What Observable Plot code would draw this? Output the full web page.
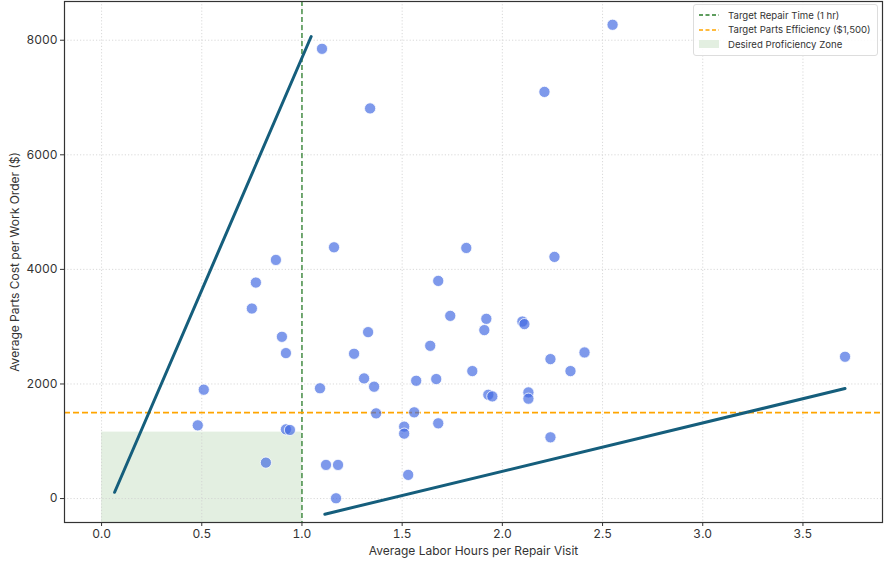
<!DOCTYPE html>
<html>
<head>
<meta charset="utf-8">
<script src="https://cdn.jsdelivr.net/npm/d3@7"></script>
<script src="https://cdn.jsdelivr.net/npm/@observablehq/plot@0.6"></script>
<style>
  html, body { margin: 0; padding: 0; background: #fff; }
  #wrap { position: relative; width: 892px; height: 568px; font-family: Inter, "Open Sans", sans-serif; }
  #legend { position: absolute; left: 693px; top: 4px; width: 183px; border: 1px solid #ddd; border-radius: 3px; background: rgba(255,255,255,0.85); font-size: 9.6px; color: #333; padding: 3px 0 3px 0; }
  .row { display: flex; align-items: center; height: 14.5px; padding-left: 5px; }
  .sw { width: 20px; margin-right: 9px; flex: none; }
</style>
</head>
<body>
<div id="wrap"></div>
<script>
// ---- data ----
const laborHours = [0.87,0.77,0.75,0.90,0.92,0.51,0.48,0.92,0.94,0.82,1.09,1.10,1.34,2.21,2.55,3.71,1.16,1.82,2.26,1.68,1.74,1.92,1.91,2.10,2.11,1.33,1.64,1.26,2.41,2.24,2.34,1.85,1.31,1.67,1.57,1.36,1.93,1.95,2.13,2.13,1.37,1.56,1.51,1.51,1.68,2.24,1.12,1.18,1.53,1.17];
const partsCost = [4165,3770,3317,2823,2539,1900,1278,1208,1197,627,1925,7850,6810,7098,8270,2475,4386,4374,4218,3799,3189,3137,2940,3090,3045,2905,2666,2527,2550,2434,2225,2225,2097,2086,2056,1952,1812,1783,1853,1743,1487,1505,1255,1133,1313,1069,587,587,413,5];
const lineAX = [0.065, 1.046];
const lineAY = [110, 8065];
const lineBX = [1.114, 3.71];
const lineBY = [-273, 1920];
const targetHours = 1.0;
const targetParts = 1500;
const zoneX = [0, 1.0];
const zoneTop = 1160;
const xTicks = [0, 0.5, 1.0, 1.5, 2.0, 2.5, 3.0, 3.5];
const yTicks = [0, 2000, 4000, 6000, 8000];
const xDomain = [-0.185, 3.897];
const yDomain = [-418, 8676];

const points = laborHours.map((h, i) => ({h, c: partsCost[i]}));
const lineA = lineAX.map((x, i) => ({x, y: lineAY[i]}));
const lineB = lineBX.map((x, i) => ({x, y: lineBY[i]}));

const chart = Plot.plot({
  width: 892,
  height: 568,
  marginLeft: 64,
  marginRight: 10,
  marginTop: 1,
  marginBottom: 46,
  style: {fontFamily: "Inter, 'Open Sans', sans-serif", fontSize: "12px", color: "#333", background: "#fff"},
  x: {domain: xDomain},
  y: {domain: yDomain},
  marks: [
    Plot.rect([{x1: zoneX[0], x2: zoneX[1], y1: yDomain[0], y2: zoneTop}], {x1: "x1", x2: "x2", y1: "y1", y2: "y2", fill: "#e3efe1"}),
    Plot.gridX(xTicks, {stroke: "#cfcfcf", strokeOpacity: 1, strokeDasharray: "1.2,2", strokeWidth: 0.8}),
    Plot.gridY(yTicks, {stroke: "#cfcfcf", strokeOpacity: 1, strokeDasharray: "1.2,2", strokeWidth: 0.8}),
    Plot.ruleX([targetHours], {stroke: "#2a7d2a", strokeWidth: 1.3, strokeDasharray: "5,3"}),
    Plot.ruleY([targetParts], {stroke: "#FFA500", strokeWidth: 1.6, strokeDasharray: "6,3"}),
    Plot.dot(points, {x: "h", y: "c", r: 5.6, fill: "#4169E1", fillOpacity: 0.68, stroke: "#fff", strokeWidth: 0.8}),
    Plot.line(lineA, {x: "x", y: "y", stroke: "#155e7c", strokeWidth: 3}),
    Plot.line(lineB, {x: "x", y: "y", stroke: "#155e7c", strokeWidth: 3}),
    Plot.axisX(xTicks, {tickFormat: d3.format(".1f"), tickSize: 4, tickPadding: 3, label: "Average Labor Hours per Repair Visit", labelAnchor: "center", labelArrow: "none", labelOffset: 32, fontSize: 12}),
    Plot.axisY(yTicks, {tickFormat: d => String(d), tickSize: 4, tickPadding: 3, label: "Average Parts Cost per Work Order ($)", labelAnchor: "center", labelArrow: "none", labelOffset: 54, fontSize: 12}),
    Plot.frame({stroke: "#333", strokeWidth: 1.2})
  ]
});

const wrap = document.getElementById("wrap");
wrap.appendChild(chart);

const legend = document.createElement("div");
legend.id = "legend";
legend.innerHTML = `
  <div class="row"><svg class="sw" height="6"><line x1="0" y1="3" x2="20" y2="3" stroke="#2a7d2a" stroke-width="1.5" stroke-dasharray="4,2.5"/></svg>Target Repair Time (1 hr)</div>
  <div class="row"><svg class="sw" height="6"><line x1="0" y1="3" x2="20" y2="3" stroke="#FFA500" stroke-width="1.5" stroke-dasharray="4,2.5"/></svg>Target Parts Efficiency ($1,500)</div>
  <div class="row"><svg class="sw" height="8"><rect x="0" y="0" width="20" height="8" fill="#e3efe1"/></svg>Desired Proficiency Zone</div>`;
wrap.appendChild(legend);
</script>
</body>
</html>
